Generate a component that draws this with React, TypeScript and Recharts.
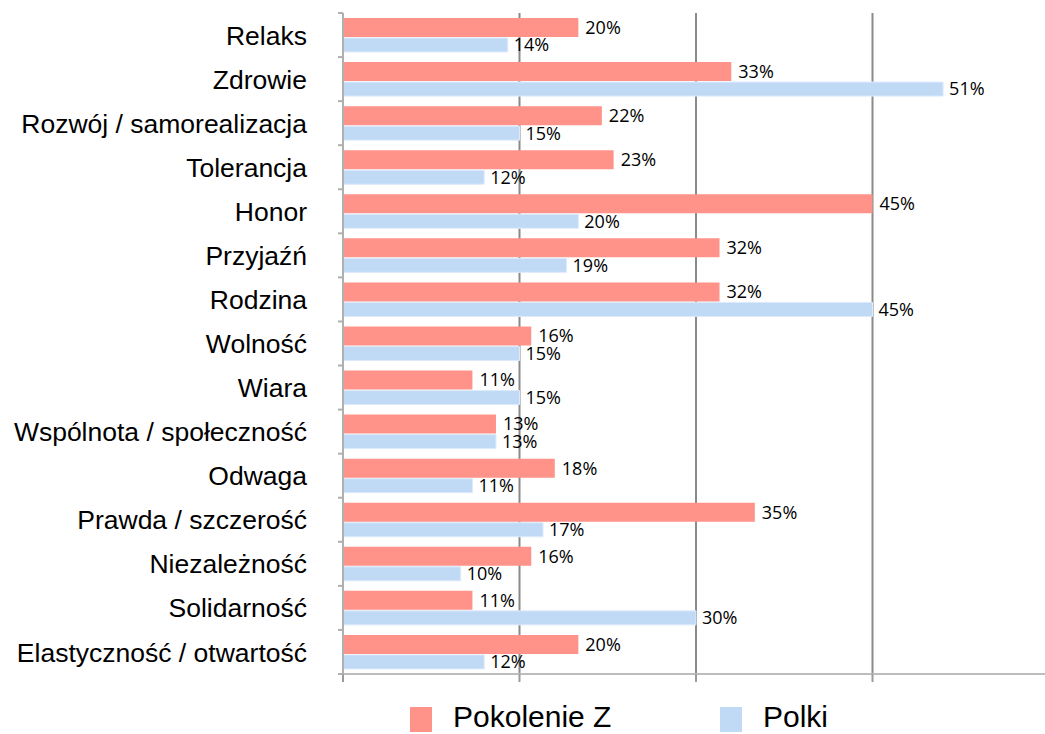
import { BarChart, Bar, XAxis, YAxis, CartesianGrid, LabelList, Legend } from 'recharts'

const categories = [
  'Relaks', 'Zdrowie', 'Rozwój / samorealizacja', 'Tolerancja', 'Honor', 'Przyjaźń', 'Rodzina',
  'Wolność', 'Wiara', 'Wspólnota / społeczność', 'Odwaga', 'Prawda / szczerość', 'Niezależność',
  'Solidarność', 'Elastyczność / otwartość',
]
const pokolenieZ = [20, 33, 22, 23, 45, 32, 32, 16, 11, 13, 18, 35, 16, 11, 20]
const polki = [14, 51, 15, 12, 20, 19, 45, 15, 15, 13, 11, 17, 10, 30, 12]
const xTicks = [0, 15, 30, 45, 60]

const RED = '#ff938a'
const BLUE = '#c0daf5'
const SANS = '"Liberation Sans", Arial, Helvetica, sans-serif'

const data = categories.map((name, i) => ({ name, z: pokolenieZ[i], p: polki[i] }))

function CategoryTick(props: any) {
  const { x, y, payload, index } = props
  const half = payload.offset ?? 22
  return (
    <g>
      <text x={x} y={y} dy="0.36em" textAnchor="end" fontFamily={SANS} fontSize={26.5} fill="#000">
        {payload.value}
      </text>
      <line x1={x + 31} x2={x + 36} y1={y - half} y2={y - half} stroke="#b0b0b0" strokeWidth={2} />
      {index === categories.length - 1 && (
        <line x1={x + 31} x2={x + 36} y1={y + half} y2={y + half} stroke="#b0b0b0" strokeWidth={2} />
      )}
    </g>
  )
}

function LegendBox() {
  const item = (left: number, color: string, label: string, textLeft: number) => (
    <>
      <div style={{ position: 'absolute', left, top: 13, width: 22, height: 25, background: color }} />
      <div style={{ position: 'absolute', left: textLeft, top: 6, fontFamily: SANS, fontSize: 30, lineHeight: '34px', color: '#000' }}>
        {label}
      </div>
    </>
  )
  return (
    <div style={{ position: 'relative', height: 40, width: 1045 }}>
      {item(410, RED, 'Pokolenie Z', 453)}
      {item(720, BLUE, 'Polki', 763)}
    </div>
  )
}

const pct = (v: any) => `${v}%`

export default function App() {
  return (
    <div style={{ position: 'absolute', left: 0, top: 0, width: 1045, height: 734, overflow: 'hidden', background: '#fff' }}>
      <BarChart width={1049} height={734} data={data} layout="vertical"
        margin={{ top: 13, right: 0, bottom: 0, left: 0 }} barGap={1}>
        <CartesianGrid horizontal={false} stroke="#8a8a8a" strokeWidth={2} />
        <XAxis type="number" domain={[0, 60]} ticks={xTicks} tick={() => <g />} tickSize={8}
          axisLine={{ stroke: '#bdbdbd', strokeWidth: 2 }} tickLine={{ stroke: '#9a9a9a', strokeWidth: 2 }} height={20} />
        <YAxis type="category" dataKey="name" width={343} tickSize={0} tickMargin={36} interval={0}
          axisLine={{ stroke: '#b0b0b0', strokeWidth: 2 }} tickLine={false} tick={<CategoryTick />} />
        <Legend verticalAlign="bottom" align="left" height={40} content={() => <LegendBox />} />
        <Bar dataKey="z" name="Pokolenie Z" fill={RED} barSize={19} isAnimationActive={false}>
          <LabelList dataKey="z" position="right" offset={7} formatter={pct}
            style={{ fontFamily: '"Open Sans", sans-serif', fontSize: 18, fill: '#000' }} />
        </Bar>
        <Bar dataKey="p" name="Polki" fill={BLUE} stroke="#dceafa" strokeWidth={1} barSize={14} isAnimationActive={false}>
          <LabelList dataKey="p" position="right" offset={6} formatter={pct}
            style={{ fontFamily: '"Open Sans", sans-serif', fontSize: 18, fill: '#000' }} />
        </Bar>
      </BarChart>
    </div>
  )
}
